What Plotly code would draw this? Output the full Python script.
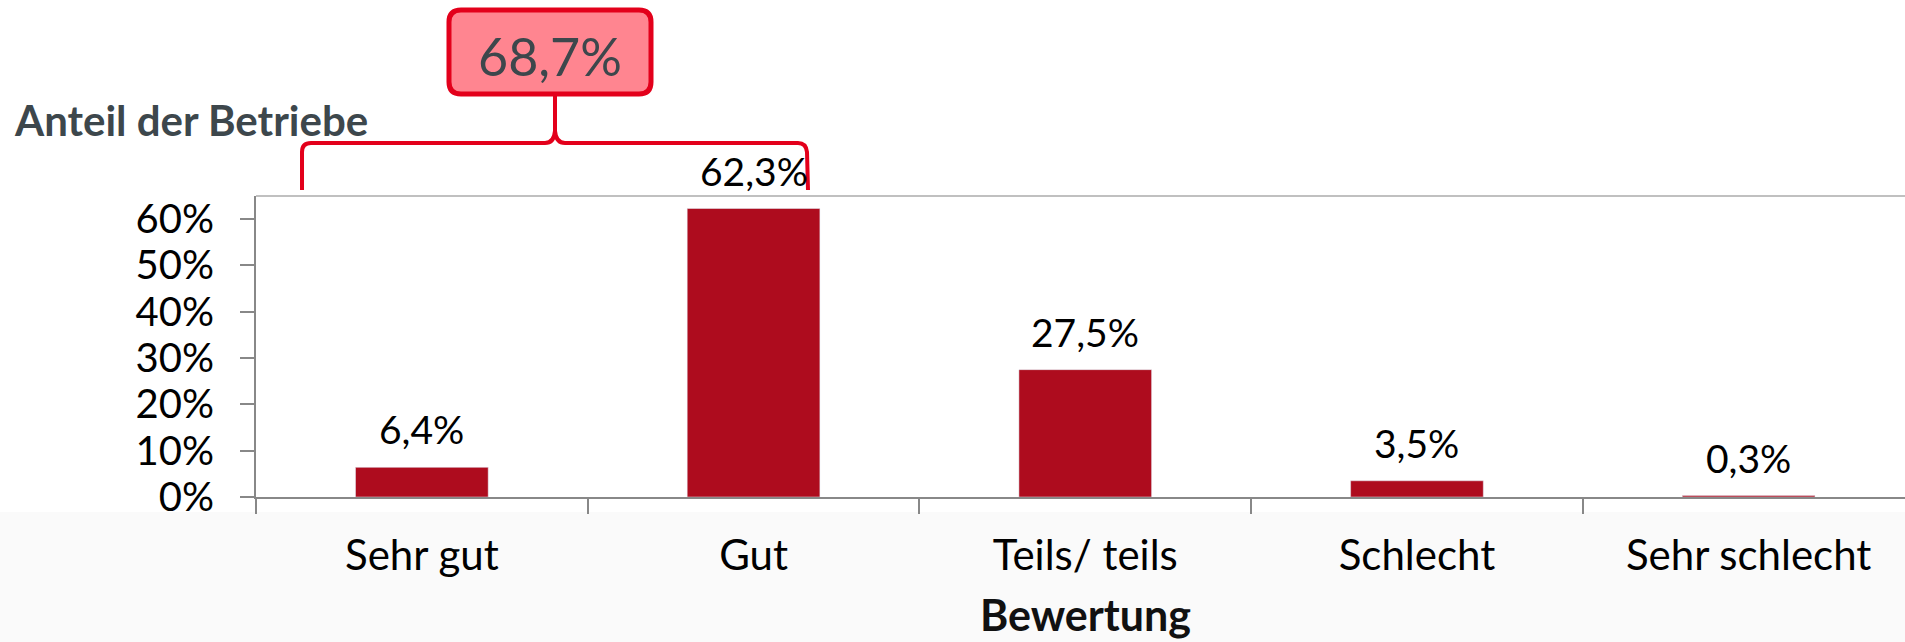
import plotly.graph_objects as go

categories = ["Sehr gut", "Gut", "Teils/ teils", "Schlecht", "Sehr schlecht"]
values = [6.4, 62.3, 27.5, 3.5, 0.3]
y_ticks = [0, 10, 20, 30, 40, 50, 60]
y_tick_labels = [f"{t}%" for t in y_ticks]
y_title = "Anteil der Betriebe"
x_title = "Bewertung"

W, H = 1905, 642
ML, MR, MT, MB = 256, 0, 196, 145
PW, PH = W - ML - MR, H - MT - MB

def px(x):
    return (x - ML) / PW

def py(y):
    return (H - MB - y) / PH

def fmt(v):
    return f"{v:.1f}".replace(".", ",") + "%"

FONT = "Lato"
RED = "#E3001B"
BAR = "#AE0C1E"
DARK = "#3D474C"

fig = go.Figure()
fig.add_trace(go.Bar(
    x=categories, y=values, marker_color=BAR, width=0.4,
    hoverinfo="x+y", showlegend=False,
))

annotations = []
for c, v in zip(categories, values):
    annotations.append(dict(
        x=c, y=v, xref="x", yref="y", text=fmt(v), showarrow=False,
        yanchor="middle", yshift=38, font=dict(family=FONT, size=39, color="#000000"),
    ))

annotations.append(dict(
    x=px(12), y=py(120), xref="paper", yref="paper", text=f"<b>{y_title}</b>",
    showarrow=False, xanchor="left", yanchor="middle",
    font=dict(family=FONT, size=42, color=DARK),
))
annotations.append(dict(
    x=categories[2], y=py(614), xref="x", yref="paper", text=f"<b>{x_title}</b>",
    showarrow=False, xanchor="center", yanchor="middle",
    font=dict(family=FONT, size=43, color="#111111"),
))
annotations.append(dict(
    x=px(550), y=py(56), xref="paper", yref="paper", text=fmt(values[0] + values[1]),
    showarrow=False, xanchor="center", yanchor="middle",
    font=dict(family=FONT, size=52, color=DARK),
))

def P(x, y):
    return f"{px(x):.5f},{py(y):.5f}"

# rounded box
x0, x1, y0, y1, r = 449, 651, 10, 94, 12
box = (f"M {P(x0 + r, y0)} L {P(x1 - r, y0)} Q {P(x1, y0)} {P(x1, y0 + r)} "
       f"L {P(x1, y1 - r)} Q {P(x1, y1)} {P(x1 - r, y1)} L {P(x0 + r, y1)} "
       f"Q {P(x0, y1)} {P(x0, y1 - r)} L {P(x0, y0 + r)} Q {P(x0, y0)} {P(x0 + r, y0)} Z")

# curly brace
brace = (f"M {P(302, 190)} L {P(302, 152)} Q {P(302, 143)} {P(311, 143)} "
         f"L {P(545, 143)} Q {P(554, 143)} {P(555, 131)} L {P(555, 96)} "
         f"M {P(555, 131)} Q {P(556, 143)} {P(565, 143)} L {P(798, 143)} "
         f"Q {P(806, 143)} {P(807, 152)} L {P(808, 190)}")

shapes = [
    dict(type="rect", xref="paper", yref="paper", x0=px(0), x1=px(W), y0=py(H), y1=py(512),
         fillcolor="#FAFAFA", line=dict(width=0), layer="below"),
    dict(type="line", xref="paper", yref="paper", x0=0, x1=1, y0=1, y1=1,
         line=dict(color="#C0C0C0", width=2)),
    dict(type="path", xref="paper", yref="paper", path=brace,
         line=dict(color=RED, width=4)),
    dict(type="path", xref="paper", yref="paper", path=box,
         fillcolor="#FF8590", line=dict(color=RED, width=5)),
]

fig.update_layout(
    width=W, height=H,
    margin=dict(l=ML, r=MR, t=MT, b=MB, pad=0),
    paper_bgcolor="#FFFFFF", plot_bgcolor="rgba(0,0,0,0)",
    separators=",.",
    font=dict(family=FONT, color="#000000"),
    annotations=annotations,
    shapes=shapes,
    showlegend=False,
)
fig.update_xaxes(
    type="category", range=[-0.5, -0.5 + PW / 331.7], automargin=False,
    showline=True, linecolor="#888888", linewidth=2,
    ticks="outside", tickson="boundaries", ticklen=15, tickwidth=1.5, tickcolor="#888888",
    tickfont=dict(family=FONT, size=42, color="#000000"),
    ticklabelstandoff=21, showgrid=False, zeroline=False, fixedrange=True,
)
fig.update_yaxes(
    range=[0, 65.0], tickmode="array", tickvals=y_ticks, ticktext=y_tick_labels,
    automargin=False,
    showline=True, linecolor="#888888", linewidth=2,
    ticks="outside", ticklen=14, tickwidth=2, tickcolor="#888888",
    tickfont=dict(family=FONT, size=40, color="#000000"),
    ticklabelstandoff=18, showgrid=False, zeroline=False, fixedrange=True,
)

fig.write_html(
    "out.html",
    config={"displayModeBar": False},
    post_script="document.body.style.margin='0';document.body.style.overflow='hidden';",
)
